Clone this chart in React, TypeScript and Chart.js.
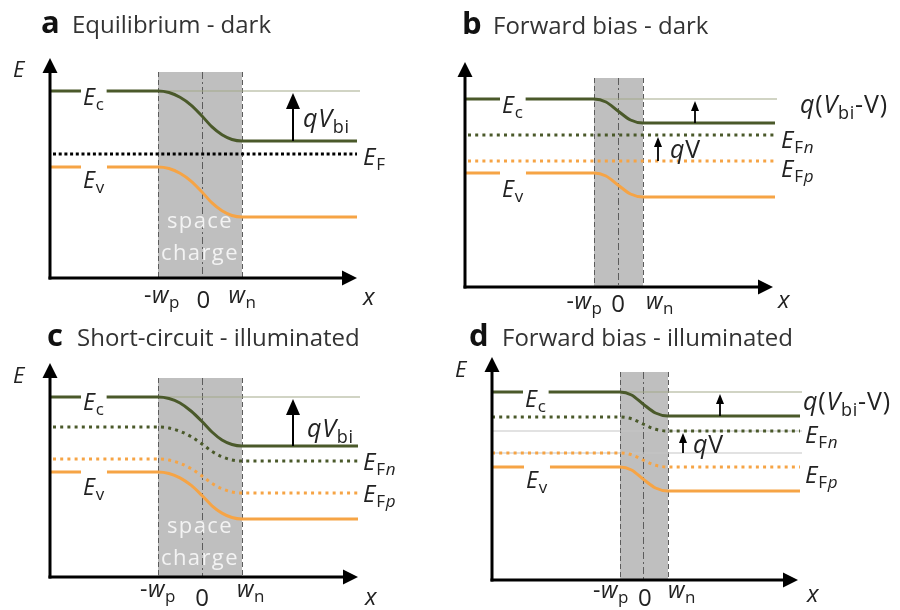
import React, { useEffect, useRef } from "react";
import { Chart, registerables } from "chart.js";

Chart.register(...registerables);

// ---------------- data (x in units of the junction width, E in arbitrary energy units; E = 0 on the x axis) -------------
// Panel a: equilibrium, dark
const A_X = [-3.8, -1.1, -0.825, -0.55, -0.275, 0, 0.25, 0.5, 0.75, 1.0, 3.875];
const A_EC = [3.74, 3.74, 3.709, 3.615, 3.459, 3.24, 3.021, 2.865, 2.771, 2.74, 2.74];
const A_EV = [2.22, 2.22, 2.189, 2.095, 1.939, 1.72, 1.501, 1.345, 1.251, 1.22, 1.22];
const A_EF_X = [-3.725, 3.875];
const A_EF = [2.48, 2.48];
const A_REF_X = [-1.1, 3.95];
const A_DEPL = [-1.1, 1.0];
const A_ARROW_X = [2.275];
const A_TICK_X = [-1.0, 0.04, 1.01];

// Panel b: forward bias, dark
const B_X = [-3.825, -0.6, -0.3, 0, 0.3125, 0.625, 3.925];
const B_EC = [3.76, 3.76, 3.7, 3.52, 3.34, 3.28, 3.28];
const B_EV = [2.28, 2.28, 2.22, 2.04, 1.86, 1.8, 1.8];
const B_EF_X = [-3.75, 3.925];
const B_EFN = [3.04, 3.04];
const B_EFP = [2.52, 2.52];
const B_REF_X = [-0.6, 3.975];
const B_DEPL = [-0.6, 0.625];
const B_ARROW_X = [1.925, 1.0];
const B_TICK_X = [-0.84, 0.01, 1.05];

// Panel c: short-circuit, illuminated
const C_X = [-3.8, -1.1, -0.825, -0.55, -0.275, 0, 0.25, 0.5, 0.75, 1.0, 3.9];
const C_F_X = [-3.725, -1.1, -0.825, -0.55, -0.275, 0, 0.25, 0.5, 0.75, 1.0, 3.9];
const C_EC = [3.6, 3.6, 3.57, 3.48, 3.32, 3.11, 2.9, 2.74, 2.65, 2.62, 2.62];
const C_EFN = [3.0, 3.0, 2.979, 2.915, 2.809, 2.66, 2.511, 2.405, 2.341, 2.32, 2.32];
const C_EFP = [2.36, 2.36, 2.339, 2.275, 2.169, 2.02, 1.871, 1.765, 1.701, 1.68, 1.68];
const C_EV = [2.1, 2.1, 2.071, 1.983, 1.836, 1.63, 1.424, 1.278, 1.189, 1.16, 1.16];
const C_REF_X = [-1.1, 3.95];
const C_DEPL = [-1.1, 1.0];
const C_ARROW_X = [2.275];
const C_TICK_X = [-1.1, 0.01, 1.225];

// Panel d: forward bias, illuminated
const D_X = [-3.775, -0.575, -0.2875, 0, 0.3125, 0.625, 3.925];
const D_EC = [3.76, 3.76, 3.7, 3.52, 3.34, 3.28, 3.28];
const D_EFN = [3.26, 3.26, 3.225, 3.12, 3.015, 2.98, 2.98];
const D_EFP = [2.54, 2.54, 2.505, 2.4, 2.295, 2.26, 2.26];
const D_EV = [2.26, 2.26, 2.2, 2.02, 1.84, 1.78, 1.78];
const D_REF_X = [-0.575, 3.975];
const D_GUIDE_X = [-3.775, 3.975];
const D_DEPL = [-0.575, 0.625];
const D_ARROW_X = [1.925, 1.0];
const D_TICK_X = [-0.8, 0.05, 0.975];

// ---------------- text ----------------
type Seg = { t: string; i?: boolean; s?: boolean; b?: boolean };
const R = (t: string): Seg => ({ t });
const I = (t: string): Seg => ({ t, i: true });
const S = (t: string, i = false): Seg => ({ t, s: true, i });

const TICK_SEGS: Seg[][] = [[R("-"), I("w"), S("p")], [R("0")], [I("w"), S("n")]];
const TITLES = ["Equilibrium - dark", "Forward bias - dark", "Short-circuit - illuminated", "Forward bias - illuminated"];
const LETTERS = ["a", "b", "c", "d"];

// ---------------- styles ----------------
const OLIVE = "#4a592a";
const ORANGE = "#f6a445";
const REFC = "#a3aa8a";
const GUIDE = "#c6c6c6";
const SHADE = "#bfbfbf";
const EDGE = "#5c5c5c";
const TXT = "#222222";
const FONT = '"Open Sans", "Noto Sans", sans-serif';
const PX_X = 40;
const PX_Y = 50;
const SP = 0.8; // letter spacing of symbol labels

type Label = {
  x: number; y: number; segs: Seg[]; size: number;
  align?: "left" | "center"; color?: string; gap?: number; under?: boolean; spacing?: number;
};
type Series = { x: number[]; y: number[]; color: string; width: number; dash?: number[] };
type Arrow = { x: number; from: number; to: number };
type Panel = {
  id: string; left: number; top: number; w: number; h: number; x0: number; axisPx: number;
  axisX: number; axisEnd: number; axisTop: number; depl: number[]; shadeTop: number;
  series: Series[]; arrows: Arrow[]; big: boolean; labels: Label[];
  tickX: number[]; tickY: number; zeroY: number;
};

const last = (a: number[]) => a[a.length - 1];
const EC_W = 3;
const DOT_BLACK = [3, 2.7];
const DOT_COL = [3, 4.2];

const lineOf = (x: number[], y: number[], color: string, width: number, dash?: number[]): Series => ({ x, y, color, width, dash });
const flat = (x: number[], v: number) => x.map(() => v);

const PANELS: Panel[] = [
  {
    id: "a", left: 0, top: 0, w: 450, h: 322, x0: 202, axisPx: 278,
    axisX: -3.8, axisEnd: 3.875, axisTop: 4.4, depl: A_DEPL, shadeTop: 4.12, big: true,
    series: [
      lineOf(A_X, A_EC, OLIVE, EC_W),
      lineOf(A_X, A_EV, ORANGE, EC_W),
      lineOf(A_EF_X, A_EF, "#000", 3, DOT_BLACK),
      lineOf(A_REF_X, flat(A_REF_X, A_EC[0]), REFC, 1.2),
    ],
    arrows: [{ x: A_ARROW_X[0], from: last(A_EC), to: A_EC[0] }],
    tickX: A_TICK_X, tickY: -0.5, zeroY: -0.6,
    labels: [
      { x: -4.025, y: 4.9, segs: [{ t: LETTERS[0], b: true }], size: 31, color: "#111" },
      { x: -3.25, y: 4.9, segs: [R(TITLES[0])], size: 24, color: "#333" },
      { x: -4.725, y: 4.02, segs: [I("E")], size: 22 },
      { x: -2.975, y: 3.46, segs: [I("E"), S("c")], size: 23, gap: A_EC[0], spacing: SP },
      { x: -2.975, y: 1.8, segs: [I("E"), S("v")], size: 23, gap: A_EV[0], spacing: SP },
      { x: 2.525, y: 3.02, segs: [I("q"), I("V"), S("bi")], size: 25, spacing: SP },
      { x: 4.025, y: 2.26, segs: [I("E"), S("F")], size: 24, spacing: SP },
      { x: -0.05, y: 1.0, segs: [R("space")], size: 22, align: "center", color: "#f3f3f3", under: true, spacing: 1.4 },
      { x: -0.05, y: 0.36, segs: [R("charge")], size: 22, align: "center", color: "#f3f3f3", under: true, spacing: 1.4 },
      { x: 4.025, y: -0.54, segs: [I("x")], size: 24 },
    ],
  },
  {
    id: "b", left: 450, top: 0, w: 450, h: 322, x0: 168, axisPx: 287,
    axisX: -3.825, axisEnd: 3.875, axisTop: 4.5, depl: B_DEPL, shadeTop: 4.18, big: false,
    series: [
      lineOf(B_X, B_EC, OLIVE, EC_W),
      lineOf(B_X, B_EV, ORANGE, EC_W),
      lineOf(B_EF_X, B_EFN, OLIVE, 3, DOT_COL),
      lineOf(B_EF_X, B_EFP, ORANGE, 3, DOT_COL),
      lineOf(B_REF_X, flat(B_REF_X, B_EC[0]), REFC, 1.2),
    ],
    arrows: [
      { x: B_ARROW_X[0], from: last(B_EC), to: B_EC[0] },
      { x: B_ARROW_X[1], from: B_EFP[0], to: B_EFN[0] },
    ],
    tickX: B_TICK_X, tickY: -0.44, zeroY: -0.5,
    labels: [
      { x: -3.9, y: 5.06, segs: [{ t: LETTERS[1], b: true }], size: 31, color: "#111" },
      { x: -3.125, y: 5.06, segs: [R(TITLES[1])], size: 24, color: "#333" },
      { x: -4.7, y: 4.2, segs: [I("E")], size: 22 },
      { x: -2.9, y: 3.48, segs: [I("E"), S("c")], size: 23, gap: B_EC[0], spacing: SP },
      { x: -2.9, y: 1.8, segs: [I("E"), S("v")], size: 23, gap: B_EV[0], spacing: SP },
      { x: 4.55, y: 3.48, segs: [I("q"), R("("), I("V"), S("bi"), R("-V)")], size: 25, spacing: SP },
      { x: 4.075, y: 2.78, segs: [I("E"), S("F"), S("n", true)], size: 24, spacing: SP },
      { x: 4.075, y: 2.2, segs: [I("E"), S("F"), S("p", true)], size: 24, spacing: SP },
      { x: 1.3, y: 2.58, segs: [I("q"), R("V")], size: 25, spacing: SP },
      { x: 4.0, y: -0.42, segs: [I("x")], size: 24 },
    ],
  },
  {
    id: "c", left: 0, top: 322, w: 450, h: 288, x0: 202, axisPx: 255,
    axisX: -3.8, axisEnd: 3.9, axisTop: 4.28, depl: C_DEPL, shadeTop: 3.98, big: true,
    series: [
      lineOf(C_X, C_EC, OLIVE, EC_W),
      lineOf(C_X, C_EV, ORANGE, EC_W),
      lineOf(C_F_X, C_EFN, OLIVE, 3, DOT_COL),
      lineOf(C_F_X, C_EFP, ORANGE, 3, DOT_COL),
      lineOf(C_REF_X, flat(C_REF_X, C_EC[0]), REFC, 1.2),
    ],
    arrows: [{ x: C_ARROW_X[0], from: last(C_EC), to: C_EC[0] }],
    tickX: C_TICK_X, tickY: -0.4, zeroY: -0.58,
    labels: [
      { x: -3.875, y: 4.62, segs: [{ t: LETTERS[2], b: true }], size: 31, color: "#111" },
      { x: -3.125, y: 4.62, segs: [R(TITLES[2])], size: 24, color: "#333" },
      { x: -4.725, y: 3.88, segs: [I("E")], size: 22 },
      { x: -2.975, y: 3.34, segs: [I("E"), S("c")], size: 23, gap: C_EC[0], spacing: SP },
      { x: -2.975, y: 1.64, segs: [I("E"), S("v")], size: 23, gap: C_EV[0], spacing: SP },
      { x: 2.625, y: 2.8, segs: [I("q"), I("V"), S("bi")], size: 25, spacing: SP },
      { x: 4.025, y: 2.14, segs: [I("E"), S("F"), S("n", true)], size: 24, spacing: SP },
      { x: 4.025, y: 1.5, segs: [I("E"), S("F"), S("p", true)], size: 24, spacing: SP },
      { x: -0.05, y: 0.88, segs: [R("space")], size: 22, align: "center", color: "#f3f3f3", under: true, spacing: 1.4 },
      { x: -0.05, y: 0.24, segs: [R("charge")], size: 22, align: "center", color: "#f3f3f3", under: true, spacing: 1.4 },
      { x: 4.075, y: -0.56, segs: [I("x")], size: 24 },
    ],
  },
  {
    id: "d", left: 450, top: 322, w: 450, h: 288, x0: 193, axisPx: 258,
    axisX: -3.775, axisEnd: 3.875, axisTop: 4.46, depl: D_DEPL, shadeTop: 4.16, big: false,
    series: [
      lineOf(D_X, D_EC, OLIVE, EC_W),
      lineOf(D_X, D_EV, ORANGE, EC_W),
      lineOf(D_X, D_EFN, OLIVE, 3, DOT_COL),
      lineOf(D_X, D_EFP, ORANGE, 3, DOT_COL),
      lineOf(D_REF_X, flat(D_REF_X, D_EC[0]), REFC, 1.2),
      lineOf(D_GUIDE_X, flat(D_GUIDE_X, last(D_EFN)), GUIDE, 1.2),
      lineOf(D_GUIDE_X, flat(D_GUIDE_X, D_EFP[0]), GUIDE, 1.2),
    ],
    arrows: [
      { x: D_ARROW_X[0], from: last(D_EC), to: D_EC[0] },
      { x: D_ARROW_X[1], from: D_EFP[0], to: last(D_EFN) },
    ],
    tickX: D_TICK_X, tickY: -0.36, zeroY: -0.52,
    labels: [
      { x: -4.35, y: 4.68, segs: [{ t: LETTERS[3], b: true }], size: 31, color: "#111" },
      { x: -3.525, y: 4.68, segs: [R(TITLES[3])], size: 24, color: "#333" },
      { x: -4.7, y: 4.06, segs: [I("E")], size: 22 },
      { x: -2.95, y: 3.46, segs: [I("E"), S("c")], size: 23, gap: D_EC[0], spacing: SP },
      { x: -2.925, y: 1.84, segs: [I("E"), S("v")], size: 23, gap: D_EV[0], spacing: SP },
      { x: 4.0, y: 3.4, segs: [I("q"), R("("), I("V"), S("bi"), R("-V)")], size: 25, spacing: SP },
      { x: 4.05, y: 2.74, segs: [I("E"), S("F"), S("n", true)], size: 24, spacing: SP },
      { x: 4.05, y: 1.94, segs: [I("E"), S("F"), S("p", true)], size: 24, spacing: SP },
      { x: 1.25, y: 2.54, segs: [I("q"), R("V")], size: 25, spacing: SP },
      { x: 4.1, y: -0.44, segs: [I("x")], size: 24 },
    ],
  },
];

// ---------------- drawing helpers ----------------
function fontOf(seg: Seg, size: number) {
  const sz = seg.s ? Math.round(size * 0.72) : size;
  return `${seg.i ? "italic " : ""}${seg.b ? "bold " : ""}${sz}px ${FONT}`;
}

function drawLabel(ctx: any, L: Label, X: (v: number) => number, Y: (v: number) => number) {
  ctx.save();
  ctx.letterSpacing = (L.spacing || 0) + "px";
  ctx.textBaseline = "alphabetic";
  ctx.textAlign = "left";
  let w = 0;
  const widths = L.segs.map((seg) => {
    ctx.font = fontOf(seg, L.size);
    const m = ctx.measureText(seg.t).width;
    w += m;
    return m;
  });
  let sx = X(L.x) - (L.align === "center" ? w / 2 : 0);
  const by = Y(L.y);
  if (L.gap !== undefined) {
    const gy = Y(L.gap);
    ctx.fillStyle = "#ffffff";
    ctx.fillRect(sx - 2, gy - 3, w + 4, 6);
  }
  ctx.fillStyle = L.color || TXT;
  L.segs.forEach((seg, k) => {
    ctx.font = fontOf(seg, L.size);
    ctx.fillText(seg.t, sx, seg.s ? by + L.size * 0.22 : by);
    sx += widths[k];
  });
  ctx.restore();
}

function arrowUp(ctx: any, x: number, yBottom: number, yTip: number, hw: number, hh: number, lw: number) {
  ctx.lineWidth = lw;
  ctx.beginPath();
  ctx.moveTo(x, yBottom);
  ctx.lineTo(x, yTip + hh - 1);
  ctx.stroke();
  ctx.beginPath();
  ctx.moveTo(x, yTip);
  ctx.lineTo(x - hw / 2, yTip + hh);
  ctx.lineTo(x + hw / 2, yTip + hh);
  ctx.closePath();
  ctx.fill();
}

function makeDeco(p: Panel) {
  return {
    id: "deco" + p.id,
    beforeDatasetsDraw(chart: any) {
      const ctx = chart.ctx;
      const xs = chart.scales.x;
      const ys = chart.scales.y;
      const X = (v: number) => xs.getPixelForValue(v);
      const Y = (v: number) => ys.getPixelForValue(v);
      ctx.save();
      const x1 = X(p.depl[0]);
      const x2 = X(p.depl[1]);
      ctx.fillStyle = SHADE;
      ctx.fillRect(x1, Y(p.shadeTop), x2 - x1, Y(0) - Y(p.shadeTop));
      ctx.strokeStyle = EDGE;
      ctx.lineWidth = 1;
      const edges: [number, number[]][] = [
        [p.depl[0], [5, 3]],
        [0, [7, 3, 2, 3]],
        [p.depl[1], [5, 3]],
      ];
      edges.forEach(([v, d]) => {
        ctx.setLineDash(d);
        const px = Math.round(X(v)) + 0.5;
        ctx.beginPath();
        ctx.moveTo(px, Y(p.shadeTop));
        ctx.lineTo(px, Y(0));
        ctx.stroke();
      });
      ctx.setLineDash([]);
      ctx.restore();
      p.labels.filter((l) => l.under).forEach((l) => drawLabel(ctx, l, X, Y));
    },
    afterDatasetsDraw(chart: any) {
      const ctx = chart.ctx;
      const xs = chart.scales.x;
      const ys = chart.scales.y;
      const X = (v: number) => xs.getPixelForValue(v);
      const Y = (v: number) => ys.getPixelForValue(v);
      ctx.save();
      ctx.strokeStyle = "#000";
      ctx.fillStyle = "#000";
      ctx.lineCap = "butt";
      // axes
      const ax = X(p.axisX);
      const ay = Y(0);
      arrowUp(ctx, ax, ay + 1.5, Y(p.axisTop), 15, 15, 3);
      const xe = X(p.axisEnd);
      ctx.lineWidth = 3;
      ctx.beginPath();
      ctx.moveTo(ax - 1.5, ay);
      ctx.lineTo(xe - 14, ay);
      ctx.stroke();
      ctx.beginPath();
      ctx.moveTo(xe, ay);
      ctx.lineTo(xe - 15, ay - 7.5);
      ctx.lineTo(xe - 15, ay + 7.5);
      ctx.closePath();
      ctx.fill();
      // energy arrows
      p.arrows.forEach((a) => {
        if (p.big) arrowUp(ctx, X(a.x), Y(a.from), Y(a.to) + 2, 14, 16, 2);
        else arrowUp(ctx, X(a.x), Y(a.from), Y(a.to) + 2, 8, 10, 1.8);
      });
      ctx.restore();
      p.labels.filter((l) => !l.under).forEach((l) => drawLabel(ctx, l, X, Y));
      // tick labels -w_p, 0, w_n
      TICK_SEGS.forEach((segs, k) => {
        drawLabel(ctx, { x: p.tickX[k], y: k === 1 ? p.zeroY : p.tickY, segs, size: k === 1 ? 24 : 23, align: "center", spacing: 0.5 }, X, Y);
      });
    },
  };
}

function PanelChart({ p }: { p: Panel }) {
  const ref = useRef<HTMLCanvasElement | null>(null);
  useEffect(() => {
    if (!ref.current) return;
    const datasets = p.series.map((s) => ({
      data: s.x.map((x, i) => ({ x, y: s.y[i] })),
      borderColor: s.color,
      borderWidth: s.width,
      borderDash: s.dash || [],
      borderCapStyle: "butt",
      pointRadius: 0,
      pointHoverRadius: 0,
      fill: false,
      cubicInterpolationMode: "monotone",
    }));
    const chart = new Chart(ref.current, {
      type: "line",
      data: { datasets: datasets as any },
      options: {
        animation: false,
        responsive: false,
        devicePixelRatio: 1,
        events: [],
        layout: { padding: 0 },
        plugins: { legend: { display: false }, tooltip: { enabled: false }, title: { display: false } },
        scales: {
          x: { type: "linear", display: false, min: -p.x0 / PX_X, max: (p.w - p.x0) / PX_X },
          y: { type: "linear", display: false, min: -(p.h - p.axisPx) / PX_Y, max: p.axisPx / PX_Y },
        },
      },
      plugins: [makeDeco(p)],
    } as any);
    return () => chart.destroy();
  }, [p]);
  return (
    <canvas
      ref={ref}
      width={p.w}
      height={p.h}
      style={{ position: "absolute", left: p.left, top: p.top, width: p.w, height: p.h }}
    />
  );
}

export default function App() {
  return (
    <div style={{ position: "absolute", left: 0, top: 0, width: 900, height: 610, background: "#fff", overflow: "hidden" }}>
      {PANELS.map((p) => (
        <PanelChart key={p.id} p={p} />
      ))}
    </div>
  );
}
